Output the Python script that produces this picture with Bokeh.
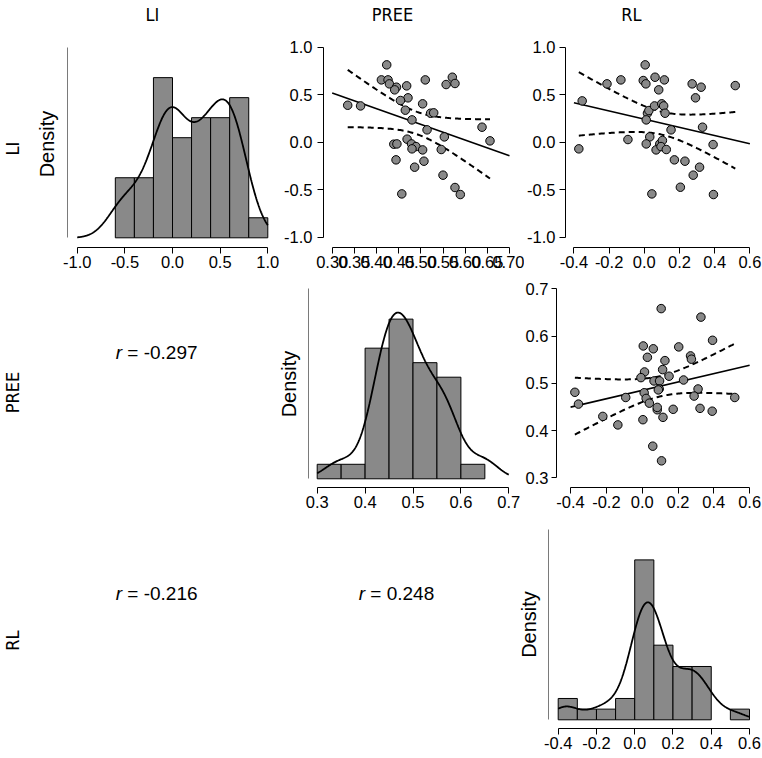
import numpy as np
from bokeh.plotting import figure
from bokeh.models import Range1d, FixedTicker, NumeralTickFormatter, LinearAxis
from bokeh.layouts import row, column
from bokeh.embed import file_html
from bokeh.resources import INLINE
from bokeh.core.properties import value

# ---------------- data ----------------
variables = ["LI", "PREE", "RL"]

# LI (y) against PREE (x)
s1_pree = [0.335, 0.364, 0.423, 0.411, 0.426, 0.429, 0.445, 0.441, 0.468, 0.510,
           0.471, 0.454, 0.465, 0.480, 0.504, 0.522, 0.529, 0.557, 0.571, 0.577,
           0.514, 0.553, 0.638, 0.656, 0.469, 0.439, 0.446, 0.479, 0.489, 0.480,
           0.504, 0.546, 0.444, 0.507, 0.486, 0.550, 0.577, 0.589, 0.457]
s1_li = [0.389, 0.382, 0.814, 0.656, 0.656, 0.614, 0.579, 0.551, 0.593, 0.656,
         0.467, 0.439, 0.337, 0.235, 0.404, 0.305, 0.309, 0.607, 0.684, 0.618,
         0.130, 0.056, 0.158, 0.014, 0.032, -0.021, -0.018, -0.018, -0.046, -0.070,
         -0.081, -0.077, -0.186, -0.200, -0.263, -0.347, -0.477, -0.551, -0.544]

# LI (y) against RL (x)
s2_rl = [-0.372, -0.353, -0.212, -0.133, -0.093, 0.005, -0.006, 0.009, 0.061, 0.114,
         0.082, 0.018, 0.026, 0.011, 0.058, 0.099, 0.110, 0.118, 0.152, 0.031,
         0.011, 0.088, 0.103, 0.067, 0.095, 0.125, 0.171, 0.231, 0.205, 0.043,
         0.278, 0.314, 0.272, 0.323, 0.291, 0.331, 0.391, 0.393, 0.517]
s2_li = [-0.070, 0.435, 0.614, 0.656, 0.028, 0.814, 0.649, 0.614, 0.684, 0.656,
         0.551, 0.305, 0.333, 0.235, 0.382, 0.404, 0.382, 0.305, 0.130, 0.056,
         -0.018, -0.018, 0.018, -0.081, -0.046, -0.077, -0.186, -0.200, -0.474, -0.544,
         -0.347, -0.263, 0.614, 0.579, 0.467, 0.158, -0.025, -0.551, 0.596]

# PREE (y) against RL (x)
s3_rl = [-0.376, -0.356, -0.220, -0.136, -0.092, 0.006, 0.062, 0.029, 0.013, -0.007,
         0.011, 0.022, 0.040, 0.004, 0.059, 0.108, 0.106, 0.066, 0.097, 0.095,
         0.114, 0.127, 0.150, 0.084, 0.084, 0.116, 0.173, 0.204, 0.231, 0.270,
         0.275, 0.328, 0.393, 0.312, 0.290, 0.323, 0.391, 0.517, 0.090]
s3_pree = [0.481, 0.456, 0.430, 0.412, 0.470, 0.579, 0.573, 0.555, 0.524, 0.512,
           0.480, 0.468, 0.458, 0.423, 0.367, 0.336, 0.658, 0.505, 0.505, 0.488,
           0.529, 0.548, 0.515, 0.444, 0.449, 0.428, 0.445, 0.577, 0.507, 0.558,
           0.551, 0.640, 0.591, 0.488, 0.473, 0.447, 0.441, 0.470, 0.486]

# histograms (bin edges and counts)
li_breaks = [-0.6, -0.4, -0.2, 0.0, 0.2, 0.4, 0.6, 0.8, 1.0]
li_counts = [3, 3, 8, 5, 6, 6, 7, 1]
pree_breaks = [0.30, 0.35, 0.40, 0.45, 0.50, 0.55, 0.60, 0.65]
pree_counts = [1, 1, 9, 11, 8, 7, 1]
rl_breaks = [-0.4, -0.3, -0.2, -0.1, 0.0, 0.1, 0.2, 0.3, 0.4, 0.5, 0.6]
rl_counts = [2, 1, 1, 2, 15, 7, 5, 5, 0, 1]

# tick values
li_ticks = [-1.0, -0.5, 0.0, 0.5, 1.0]
pree_ticks_fine = [0.30, 0.35, 0.40, 0.45, 0.50, 0.55, 0.60, 0.65, 0.70]
pree_ticks = [0.3, 0.4, 0.5, 0.6, 0.7]
rl_ticks = [-0.4, -0.2, 0.0, 0.2, 0.4, 0.6]

# correlations printed in the lower triangle
r_li_pree = -0.297
r_li_rl = -0.216
r_pree_rl = 0.248

T975 = 2.026  # t quantile, df = 37

# ---------------- helpers ----------------
S = 1.0
FONT = "Liberation Sans"
TICK_FS = "16.5px"
LABEL_FONT = "'DejaVu Sans Condensed', 'DejaVu Sans'"


def px(v):
    return int(round(v * S))


def bw_nrd0(x):
    x = np.asarray(x, float)
    sd = x.std(ddof=1)
    q75, q25 = np.percentile(x, [75, 25])
    lo = min(sd, (q75 - q25) / 1.34)
    return 0.9 * lo * len(x) ** (-0.2)


def kde(x, grid):
    x = np.asarray(x, float)
    bw = bw_nrd0(x)
    z = (grid[:, None] - x[None, :]) / bw
    return np.exp(-0.5 * z ** 2).sum(axis=1) / (len(x) * bw * np.sqrt(2 * np.pi))


def base_fig(cell, frame, xmap, ymap):
    cx0, cy0, cx1, cy1 = cell
    fx0, fy0, fx1, fy1 = frame
    W = px(cx1) - px(cx0)
    H = px(cy1) - px(cy0)
    L = int(round((fx0 - cx0) * S))
    R = int(round((cx1 - fx1) * S))
    T = int(round((fy0 - cy0) * S))
    B = int(round((cy1 - fy1) * S))
    fw = W - L - R
    fh = H - T - B
    (v1, p1), (v2, p2) = xmap
    k = (p2 - p1) * S / (v2 - v1)
    xs = v1 - ((p1 * S - px(cx0)) - L) / k
    xe = xs + fw / k
    (u1, q1), (u2, q2) = ymap
    ky = (q1 - q2) * S / (u2 - u1)
    ys = u1 - ((H - B) - (q1 * S - px(cy0))) / ky
    ye = ys + fh / ky
    p = figure(width=W, height=H, x_range=Range1d(xs, xe), y_range=Range1d(ys, ye),
               x_axis_type=None, y_axis_type=None, output_backend="svg",
               toolbar_location=None, min_border=0, min_border_left=L,
               min_border_right=R, min_border_top=T, min_border_bottom=B)
    p.outline_line_color = None
    p.background_fill_color = "white"
    p.border_fill_color = "white"
    return p


def tick_axis(ticks, fmt, standoff, tick_out=6):
    return LinearAxis(ticker=FixedTicker(ticks=ticks),
                      formatter=NumeralTickFormatter(format=fmt),
                      bounds=(ticks[0], ticks[-1]),
                      major_tick_out=tick_out, major_tick_in=0,
                      minor_tick_out=0, minor_tick_in=0,
                      major_label_standoff=standoff,
                      major_label_text_font=FONT,
                      major_label_text_font_size=TICK_FS,
                      major_label_text_color="black",
                      axis_line_color="black", major_tick_line_color="black")


def density_axis(top, standoff):
    return LinearAxis(ticker=FixedTicker(ticks=[]), bounds=(0, top),
                      major_tick_out=0, major_tick_in=0, minor_tick_out=0,
                      minor_tick_in=0, major_label_text_font_size="0px",
                      axis_line_color="#7a7a7a", axis_label="Density",
                      axis_label_standoff=standoff,
                      axis_label_text_font=FONT, axis_label_text_font_size="20px",
                      axis_label_text_font_style="normal",
                      axis_label_text_color="black")


def hist_fig(cell, frame, xmap, ypix, data, breaks, counts, ticks, fmt, standoff):
    counts = np.asarray(counts, float)
    breaks = np.asarray(breaks, float)
    widths = np.diff(breaks)
    dens = counts / (counts.sum() * widths)
    top = 1.19 * dens.max()
    p = base_fig(cell, frame, xmap, ((0.0, ypix[0]), (top, ypix[1])))
    p.add_layout(tick_axis(ticks, fmt, 2), "below")
    p.add_layout(density_axis(top, standoff), "left")
    keep = counts > 0
    p.quad(left=breaks[:-1][keep], right=breaks[1:][keep], bottom=0, top=dens[keep],
           fill_color="#898989", line_color="black", line_width=1)
    grid = np.linspace(ticks[0], ticks[-1], 400)
    p.line(grid, kde(data, grid), line_color="black", line_width=1.8)
    return p


def scatter_fig(cell, frame, xmap, ymap, x, y, xt, xfmt, yt, yfmt, ystand=5, ytick=6):
    p = base_fig(cell, frame, xmap, ymap)
    p.add_layout(tick_axis(xt, xfmt, 2), "below")
    p.add_layout(tick_axis(yt, yfmt, ystand, ytick), "left")
    x = np.asarray(x, float)
    y = np.asarray(y, float)
    n = len(x)
    b1, b0 = np.polyfit(x, y, 1)
    res = y - (b0 + b1 * x)
    s = np.sqrt((res ** 2).sum() / (n - 2))
    sxx = ((x - x.mean()) ** 2).sum()
    xl = np.array([xt[0], xt[-1]])
    p.line(xl, b0 + b1 * xl, line_color="black", line_width=1.6)
    xg = np.linspace(x.min(), x.max(), 120)
    fit = b0 + b1 * xg
    se = s * np.sqrt(1.0 / n + (xg - x.mean()) ** 2 / sxx)
    p.line(xg, fit + T975 * se, line_color="black", line_width=2, line_dash="6 4")
    p.line(xg, fit - T975 * se, line_color="black", line_width=2, line_dash="6 4")
    p.scatter(x, y, size=8.5, fill_color="#898989", line_color="black", line_width=1)
    return p


def text_fig(cell):
    cx0, cy0, cx1, cy1 = cell
    p = figure(width=px(cx1) - px(cx0), height=px(cy1) - px(cy0),
               x_range=Range1d(cx0, cx1), y_range=Range1d(cy1, cy0),
               x_axis_type=None, y_axis_type=None, output_backend="svg",
               toolbar_location=None, min_border=0)
    p.outline_line_color = None
    p.background_fill_color = "white"
    p.border_fill_color = "white"
    return p


def r_text(cell, xr, yc, r):
    p = text_fig(cell)
    p.text(x=[xr], y=[yc], text=["r"], text_font=value(FONT),
           text_font_style=value("italic"), text_font_size="19px",
           text_align="right", text_baseline="middle", text_color="black")
    p.text(x=[xr + 5.3], y=[yc], text=[f"= {r:.3f}"], text_font=value(FONT),
           text_font_size="19px", text_align="left", text_baseline="middle",
           text_color="black")
    return p


# ---------------- top titles ----------------
title_fig = text_fig((0, 0, 762, 30))
title_fig.text(x=[152, 392, 631], y=[14, 14, 14], text=variables,
               text_font=value(LABEL_FONT), text_font_size="18px",
               text_align="center", text_baseline="middle", text_color="black")

# ---------------- row labels ----------------
label_fig = text_fig((0, 30, 27, 758))
label_fig.text(x=[12, 12, 12], y=[148, 392, 640], text=variables, angle=np.pi / 2,
               text_font=value(LABEL_FONT), text_font_size="18px",
               text_align="center", text_baseline="middle", text_color="black")

# ---------------- row 1 ----------------
h_li = hist_fig((27, 30, 281, 275), (67, 40, 277, 246.7),
                ((-1.0, 76.7), (1.0, 267.3)), (237.3, 46.7),
                s1_li, li_breaks, li_counts, li_ticks, "0.0", 10)
sc_li_pree = scatter_fig((281, 30, 524, 275), (323.3, 40, 517, 246.7),
                         ((0.30, 331.7), (0.70, 509.0)), ((-1.0, 236.7), (1.0, 46.7)),
                         s1_pree, s1_li, pree_ticks_fine, "0.00", li_ticks, "0.0")
sc_li_rl = scatter_fig((524, 30, 762, 275), (563.3, 40, 757, 246.7),
                       ((-0.4, 571.5), (0.6, 749.3)), ((-1.0, 236.7), (1.0, 46.7)),
                       s2_rl, s2_li, rl_ticks, "0.0", li_ticks, "0.0", ystand=4)

# ---------------- row 2 ----------------
r2_c0 = r_text((27, 275, 270, 515), 121.5, 358, r_li_pree)
h_pree = hist_fig((270, 275, 522, 515), (308.3, 280, 516, 487.3),
                  ((0.3, 316.7), (0.7, 508.3)), (478.3, 288.3),
                  s1_pree, pree_breaks, pree_counts, pree_ticks, "0.0", 9)
sc_pree_rl = scatter_fig((522, 275, 762, 515), (553.3, 280, 757, 488.3),
                         ((-0.4, 567.3), (0.6, 749.0)), ((0.3, 478.3), (0.7, 288.3)),
                         s3_rl, s3_pree, rl_ticks, "0.0", pree_ticks, "0.0",
                         ystand=3, ytick=5)

# ---------------- row 3 ----------------
r3_c0 = r_text((27, 515, 270, 758), 121.5, 600, r_li_rl)
r3_c1 = r_text((270, 515, 514, 758), 364.5, 600, r_pree_rl)
h_rl = hist_fig((514, 515, 762, 758), (548.3, 520, 757, 728.3),
                ((-0.4, 557.7), (0.6, 749.0)), (719.3, 529.0),
                s2_rl, rl_breaks, rl_counts, rl_ticks, "0.0", 9)

grid = column(row(h_li, sc_li_pree, sc_li_rl),
              row(r2_c0, h_pree, sc_pree_rl),
              row(r3_c0, r3_c1, h_rl))
layout = column(title_fig, row(label_fig, grid))

with open("out.html", "w") as f:
    f.write(file_html(layout, INLINE))
